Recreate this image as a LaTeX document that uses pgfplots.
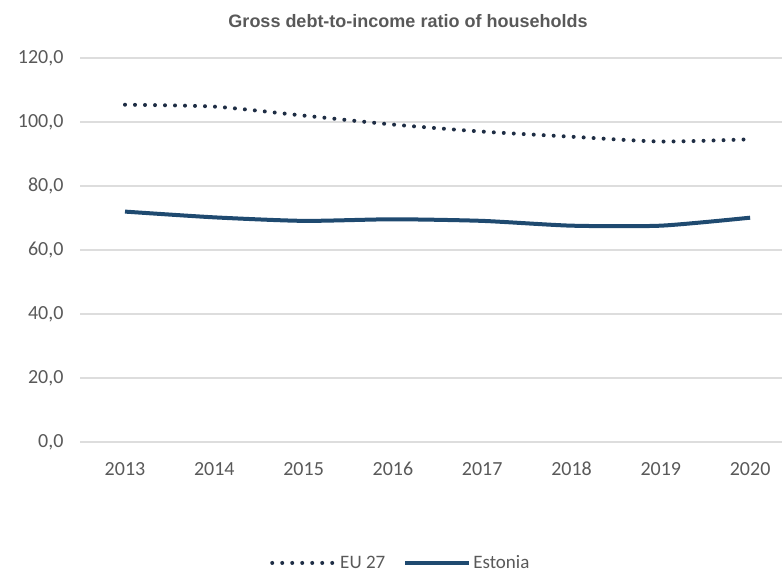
\documentclass[border=0pt]{standalone}
\usepackage{fontspec}
\setmainfont{Carlito}
\newfontfamily\titlefont{Liberation Sans}
\usepackage{pgfplots}
\pgfplotsset{compat=1.18}
\definecolor{est}{HTML}{1F4A70}
\definecolor{eu}{HTML}{1E2D44}
\definecolor{gridc}{HTML}{DDDDDD}
\definecolor{txt}{HTML}{595959}
\begin{document}
\begin{tikzpicture}[x=1pt,y=1pt]
\path[use as bounding box] (0,0) rectangle (782,573);
\node[font=\titlefont\bfseries\fontsize{18}{20}\selectfont, text=txt, anchor=center] at (408,552) {Gross debt-to-income ratio of households};
\begin{axis}[at={(80pt,131pt)}, anchor=south west, scale only axis,
  width=702pt, height=384pt,
  xmin=-0.504, xmax=7.357, ymin=0, ymax=120,
  xtick={0,1,2,3,4,5,6,7},
  xticklabels={2013,2014,2015,2016,2017,2018,2019,2020},
  ytick={0,20,40,60,80,100,120},
  ymajorgrids, grid style={gridc, line width=1.2pt},
  axis line style={draw=none},
  major tick length=0pt,
  tick label style={font=\fontsize{20}{22}\selectfont, text=txt},
  yticklabel style={xshift=-13pt},
  xticklabel style={yshift=-16pt, text height=14pt, text depth=2pt},
  /pgf/number format/.cd, fixed, fixed zerofill, precision=1, use comma, assume math mode=true,
  /pgfplots/.cd,
  clip=false,
  legend style={at={(0.457,-0.315)}, anchor=center, draw=none, fill=none,
    font=\fontsize{19}{21}\selectfont, text=txt, legend columns=2,
    /tikz/every even column/.append style={column sep=16pt}, inner sep=0pt},
  legend cell align=left,
  legend image code/.code={\draw[#1] (0pt,0pt) -- (64pt,0pt);},
]
\addplot[eu, line width=4pt, line cap=round, dash pattern=on 0pt off 10pt, smooth, tension=0.4]
  coordinates {(0,105.4) (1,104.8) (2,102.0) (3,99.2) (4,97.0) (5,95.4) (6,93.9) (7,94.6)};
\addlegendentry{EU 27}
\addplot[est, line width=4pt, smooth, tension=0.4]
  coordinates {(0,72.0) (1,70.2) (2,69.1) (3,69.6) (4,69.1) (5,67.6) (6,67.6) (7,70.1)};
\addlegendentry{Estonia}
\end{axis}
\end{tikzpicture}
\end{document}
